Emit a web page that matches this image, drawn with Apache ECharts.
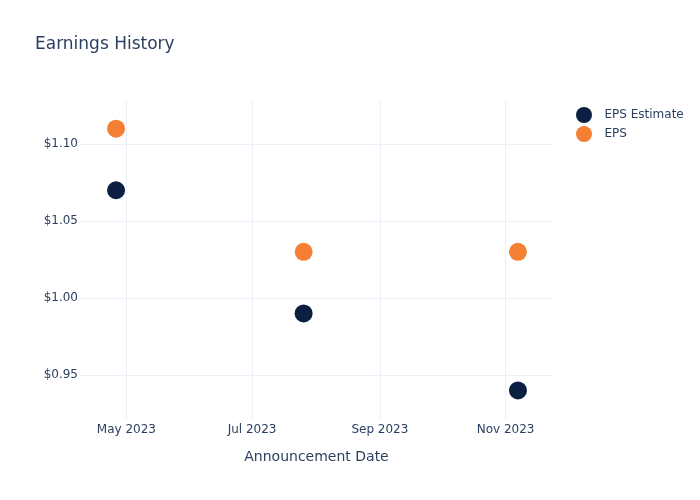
<!DOCTYPE html>
<html><head><meta charset="utf-8">
<script src="https://cdn.jsdelivr.net/npm/echarts@6/dist/echarts.min.js"></script>
<style>html,body{margin:0;padding:0;background:#fff}#c{width:700px;height:500px}</style>
</head><body><div id="c"></div>
<script>
var dates = ['2023-04-26', '2023-07-26', '2023-11-07'];
var epsEstimate = [1.07, 0.99, 0.94];
var eps = [1.11, 1.03, 1.03];
var xTicks = ['2023-05-01', '2023-07-01', '2023-09-01', '2023-11-01'];
var yTicks = [0.95, 1.00, 1.05, 1.10];
var months = ['Jan','Feb','Mar','Apr','May','Jun','Jul','Aug','Sep','Oct','Nov','Dec'];
function ts(s){ var p = s.split('-'); return Date.UTC(+p[0], +p[1]-1, +p[2]); }
var font = 'DejaVu Sans';
var txt = '#2a3f5f';
var grid = '#ebf0f8';
var chart = echarts.init(document.getElementById('c'), null, {renderer:'canvas'});
chart.setOption({
  animation: false,
  textStyle: {fontFamily: font},
  title: {text: 'Earnings History', left: 30, top: 31, textStyle: {fontFamily: font, fontSize: 17, fontWeight: 'normal', color: txt}},
  legend: {orient: 'vertical', left: 571, top: 102, itemWidth: 31, itemHeight: 16, itemGap: 3, icon: 'circle',
    textStyle: {fontFamily: font, fontSize: 12, color: txt}, data: ['EPS Estimate', 'EPS']},
  grid: {left: 80, right: 147, top: 100, bottom: 80},
  xAxis: {type: 'value', min: ts('2023-04-09') - 12 * 3600 * 1000, max: ts('2023-11-24'), scale: true,
    name: 'Announcement Date', nameLocation: 'middle', nameGap: 30,
    nameTextStyle: {fontFamily: font, fontSize: 14, color: txt},
    axisLine: {show: false}, axisTick: {show: false, customValues: xTicks.map(ts)},
    axisLabel: {customValues: xTicks.map(ts), fontFamily: font, fontSize: 12, color: txt, margin: 4,
      formatter: function(v){ var d = new Date(v); return months[d.getUTCMonth()] + ' ' + d.getUTCFullYear(); }},
    splitLine: {show: true, lineStyle: {color: grid, width: 1}}
  },
  yAxis: {type: 'value', min: 0.9208, max: 1.1286,
    axisLine: {show: false}, axisTick: {show: false, customValues: yTicks},
    axisLabel: {customValues: yTicks, fontFamily: font, fontSize: 12, color: txt, margin: 2,
      formatter: function(v){ return '$' + v.toFixed(2); }},
    splitLine: {show: true, lineStyle: {color: grid, width: 1}}
  },
  series: [
    {name: 'EPS Estimate', type: 'scatter', symbolSize: 18, itemStyle: {color: '#0b1f42', opacity: 1},
      data: dates.map(function(d, i){ return [ts(d), epsEstimate[i]]; })},
    {name: 'EPS', type: 'scatter', symbolSize: 18, itemStyle: {color: '#f58034', opacity: 1},
      data: dates.map(function(d, i){ return [ts(d), eps[i]]; })}
  ]
});
</script></body></html>
